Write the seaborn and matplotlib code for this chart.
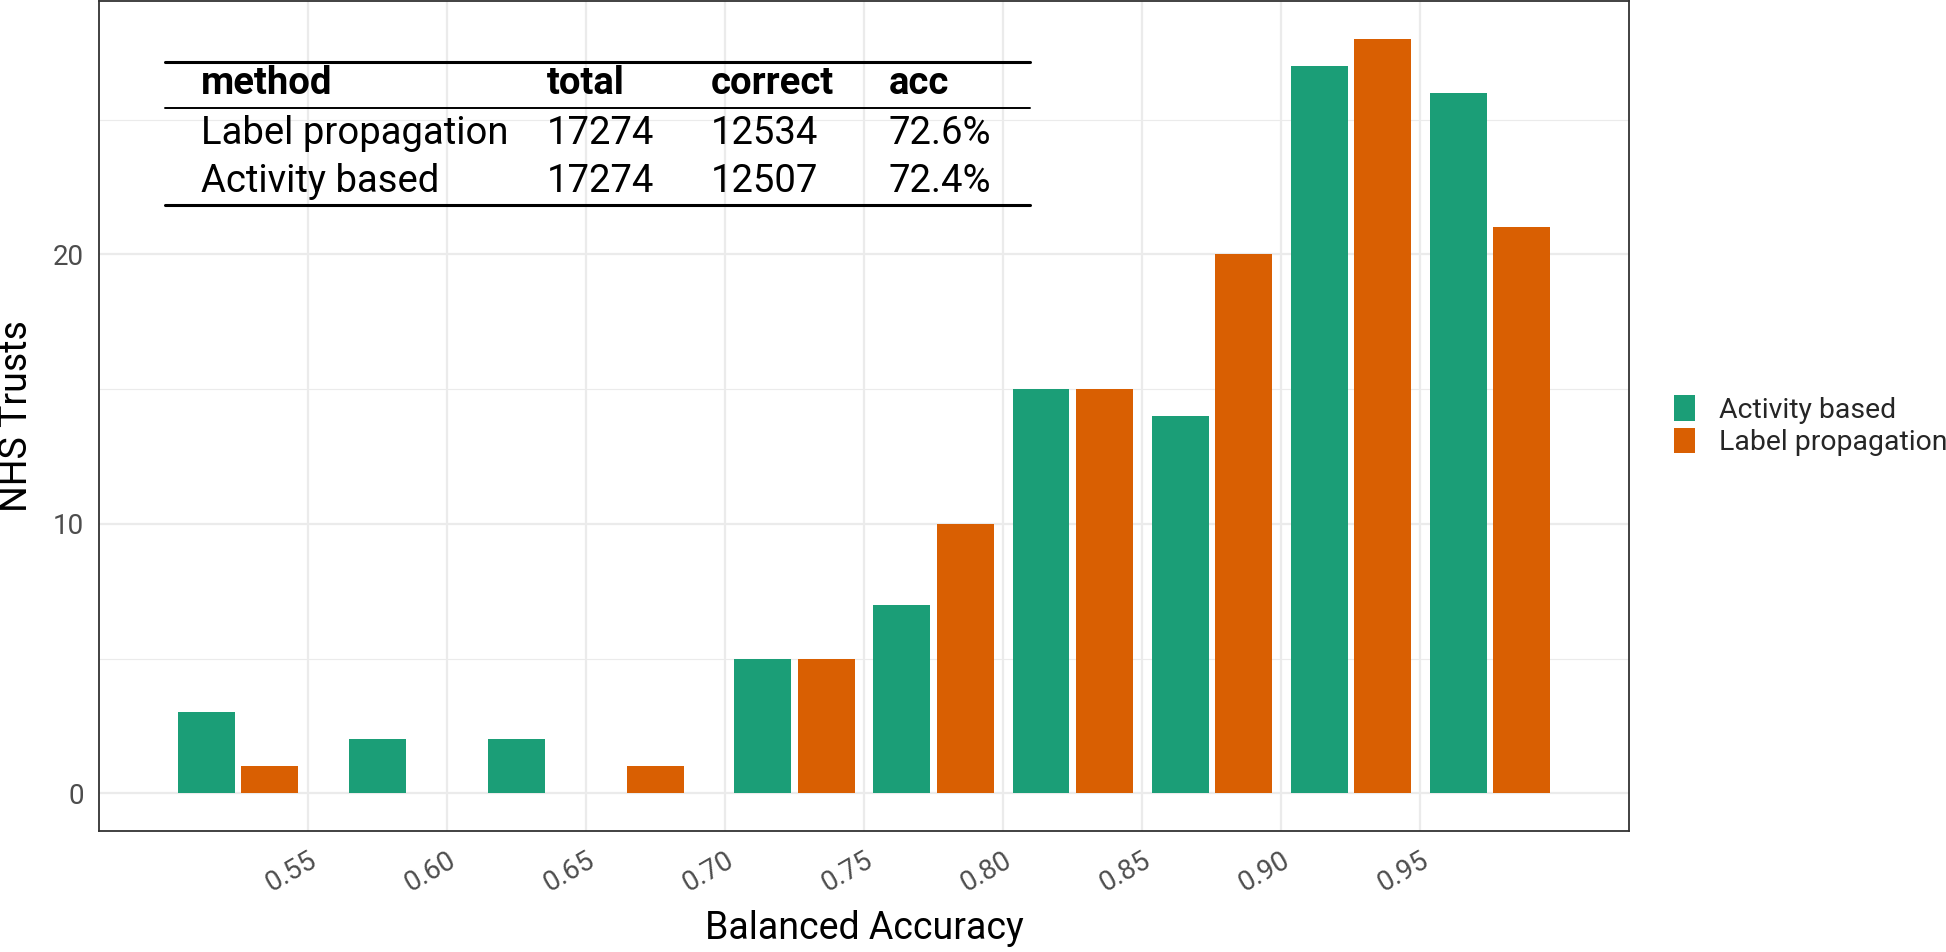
import numpy as np
import pandas as pd
import matplotlib
matplotlib.use("Agg")
import matplotlib.pyplot as plt
from matplotlib.patches import Patch
from matplotlib.lines import Line2D
import seaborn as sns

# =========================================================
# DATA (bin width 0.05)
# =========================================================
bin_starts = [0.50, 0.55, 0.60, 0.65, 0.70, 0.75, 0.80, 0.85, 0.90, 0.95]
activity_counts = [3, 2, 2, 0, 5, 7, 15, 14, 27, 26]
label_prop_counts = [1, 0, 0, 1, 5, 10, 15, 20, 28, 21]
methods = ["Activity based", "Label propagation"]
colors = {"Activity based": "#1B9E77", "Label propagation": "#D95F02"}

x_ticks = [0.55, 0.60, 0.65, 0.70, 0.75, 0.80, 0.85, 0.90, 0.95]
y_ticks = [0, 10, 20]
y_minor = [5, 15, 25]

table_header = ["method", "total", "correct", "acc"]
table_rows = [
    ["Label propagation", "17274", "12534", "72.6%"],
    ["Activity based", "17274", "12507", "72.4%"],
]

BIN_W = 0.05
centers = [round(b + BIN_W / 2, 4) for b in bin_starts]
df = pd.DataFrame({
    "acc": centers * 2,
    "count": activity_counts + label_prop_counts,
    "method": [methods[0]] * len(centers) + [methods[1]] * len(centers),
})
# empty bins are dropped; a bin holding one method only gets a centred bar
df = df[df["count"] > 0]
n_per_bin = df.groupby("acc")["method"].transform("count")
paired = df[n_per_bin == 2]
single = df[n_per_bin == 1]

# =========================================================
# FIGURE
# =========================================================
W, H = 1946, 952
sns.set_theme(style="white")
plt.rcParams["font.family"] = ["Roboto", "DejaVu Sans"]

fig = plt.figure(figsize=(W / 100, H / 100), dpi=100)
ax_l, ax_r, ax_t, ax_b = 99, 1629, 1, 831
ax = fig.add_axes([ax_l / W, 1 - ax_b / H, (ax_r - ax_l) / W, (ax_b - ax_t) / H])

sns.barplot(data=paired, x="acc", y="count", hue="method", hue_order=methods,
            palette=colors, native_scale=True, width=0.91, gap=0.1,
            saturation=1, linewidth=0, legend=False, ax=ax, zorder=3)
sns.barplot(data=single, x="acc", y="count", hue="method", hue_order=methods,
            palette=colors, native_scale=True, width=0.41, dodge=False,
            saturation=1, linewidth=0, legend=False, ax=ax, zorder=3)

ax.set_xlim(0.475, 1.025)
ax.set_ylim(-1.4, 29.4)
ax.set_xticks(x_ticks)
ax.set_xticklabels([f"{t:.2f}" for t in x_ticks], rotation=30, ha="right",
                   rotation_mode="anchor", fontsize=20, color="#4D4D4D")
ax.set_xticks([], minor=True)
ax.set_yticks(y_ticks)
ax.set_yticklabels([str(t) for t in y_ticks], fontsize=20, color="#4D4D4D")
ax.set_yticks(y_minor, minor=True)

ax.tick_params(axis="both", which="major", length=6, width=1.6, color="#333333", pad=5)
ax.tick_params(axis="y", which="minor", length=0)

ax.set_axisbelow(True)
ax.xaxis.grid(True, which="major", color="#EBEBEB", linewidth=1.6)
ax.yaxis.grid(True, which="major", color="#EBEBEB", linewidth=1.6)
ax.yaxis.grid(True, which="minor", color="#EBEBEB", linewidth=0.8)
for s in ax.spines.values():
    s.set_color("#333333")
    s.set_linewidth(1.3)

ax.set_xlabel("Balanced Accuracy", fontsize=27, color="black")
ax.xaxis.label.set_va("center")
ax.xaxis.set_label_coords(0.5, -0.117)
ax.set_ylabel("NHS Trusts", fontsize=27, color="black")
ax.yaxis.label.set_va("center")
ax.yaxis.set_label_coords(-0.054, 0.5)

# =========================================================
# SUMMARY TABLE (inset, top left)
# =========================================================
col_x = [201, 547, 711, 889]
row_y = [84, 134, 182]
for j, txt in enumerate(table_header):
    fig.text(col_x[j] / W, 1 - row_y[0] / H, txt, fontsize=27.5, fontweight="bold",
             ha="left", va="center", color="black")
for i, row in enumerate(table_rows):
    for j, txt in enumerate(row):
        fig.text(col_x[j] / W, 1 - row_y[i + 1] / H, txt, fontsize=27.5,
                 ha="left", va="center", color="black")
for y, lw in [(62, 2.2), (108, 1.4), (205, 2.2)]:
    fig.add_artist(Line2D([165 / W, 1030 / W], [1 - y / H, 1 - y / H],
                          color="black", linewidth=lw, transform=fig.transFigure))

# =========================================================
# LEGEND
# =========================================================
handles = [Patch(facecolor=colors[m], edgecolor="none", label=m) for m in methods]
fig.legend(handles=handles, loc="upper left", bbox_to_anchor=(1674 / W, 1 - 395 / H),
           frameon=False, fontsize=20.4, handlelength=0.74, handleheight=1.02,
           handletextpad=0.85, labelspacing=0.14, borderpad=0, borderaxespad=0)

fig.savefig("out.png", dpi=100, facecolor="white")
